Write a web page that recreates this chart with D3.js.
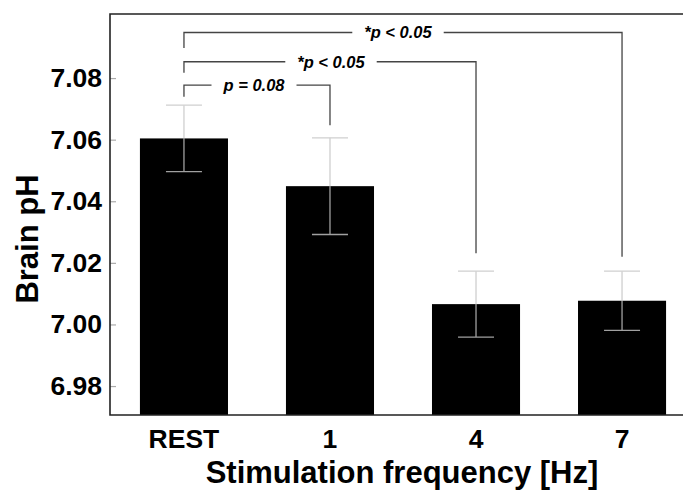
<!DOCTYPE html>
<html><head><meta charset="utf-8">
<script src="https://cdn.jsdelivr.net/npm/d3@7"></script>
<style>body{margin:0;background:#fff}svg{display:block}text{font-family:"Liberation Sans",Arial,sans-serif}</style>
</head><body><svg width="683" height="490"></svg>
<script>
const categories = ["REST", "1", "4", "7"];
const means = [7.0604, 7.0449, 7.0066, 7.0077];
const errors = [0.0108, 0.0157, 0.0107, 0.0096];
const yTicks = [6.98, 7.00, 7.02, 7.04, 7.06, 7.08];
const comparisons = [
  {from: "REST", to: "1", label: "p = 0.08", star: false, level: 7.0777, leftEnd: 7.0739, rightEnd: 7.0647},
  {from: "REST", to: "4", label: "p < 0.05", star: true, level: 7.0853, leftEnd: 7.0817, rightEnd: 7.0231},
  {from: "REST", to: "7", label: "p < 0.05", star: true, level: 7.0948, leftEnd: 7.0898, rightEnd: 7.0220}
];

const svg = d3.select("svg");
const mLeft = 110, mTop = 14, mBottom = 415, mRight = 683;
const x = d3.scaleBand().domain(categories).range([mLeft, 696]).paddingInner(0.397).paddingOuter(0.205);
const y = d3.scaleLinear().domain([6.9706, 7.1008]).range([mBottom, mTop]);

// bars
svg.selectAll("rect.bar").data(means).join("rect")
  .attr("class", "bar")
  .attr("x", (d, i) => x(categories[i]))
  .attr("width", x.bandwidth())
  .attr("y", d => y(d))
  .attr("height", d => mBottom - y(d))
  .attr("fill", "#000");

// error bars
const capW = 36;
means.forEach((m, i) => {
  const cx = x(categories[i]) + x.bandwidth() / 2;
  const hi = m + errors[i], lo = m - errors[i];
  svg.append("line").attr("x1", cx).attr("x2", cx).attr("y1", y(hi)).attr("y2", y(m))
    .attr("stroke", "#cfcfcf").attr("stroke-width", 1.3);
  svg.append("line").attr("x1", cx).attr("x2", cx).attr("y1", y(m)).attr("y2", y(lo))
    .attr("stroke", "#a0a0a0").attr("stroke-width", 1.3);
  svg.append("line").attr("x1", cx - capW / 2).attr("x2", cx + capW / 2).attr("y1", y(hi)).attr("y2", y(hi))
    .attr("stroke", "#cfcfcf").attr("stroke-width", 1.3);
  svg.append("line").attr("x1", cx - capW / 2).attr("x2", cx + capW / 2).attr("y1", y(lo)).attr("y2", y(lo))
    .attr("stroke", "#a0a0a0").attr("stroke-width", 1.3);
});

// y axis
const yAxis = d3.axisLeft(y).tickValues(yTicks).tickFormat(d3.format(".2f")).tickSize(-6).tickPadding(8);
const ga = svg.append("g").attr("transform", `translate(${mLeft},0)`).call(yAxis);
ga.select(".domain").remove();
ga.selectAll(".tick line").attr("stroke", "#aaa").attr("stroke-width", 1.2);
ga.selectAll(".tick text").attr("x", -8).attr("font-size", 26.5).attr("font-weight", "bold").attr("fill", "#000")
  .style("font-family", "'Liberation Sans', Arial, sans-serif");

// x axis labels
const xAxis = d3.axisBottom(x).tickSize(0).tickPadding(14);
const gx = svg.append("g").attr("transform", `translate(0,${mBottom})`).call(xAxis);
gx.select(".domain").remove();
gx.selectAll(".tick text").attr("font-size", 26.5).attr("font-weight", "bold").attr("fill", "#000")
  .style("font-family", "'Liberation Sans', Arial, sans-serif");

// frame
const frame = d3.path();
frame.moveTo(mRight, mTop); frame.lineTo(mLeft, mTop); frame.lineTo(mLeft, mBottom); frame.lineTo(mRight, mBottom);
svg.append("path").attr("d", frame.toString()).attr("fill", "none").attr("stroke", "#222").attr("stroke-width", 1.6);

// significance brackets
const labelX = {"1": 254, "4": 331, "7": 398};
comparisons.forEach(c => {
  const x1 = x(c.from) + x.bandwidth() / 2, x2 = x(c.to) + x.bandwidth() / 2;
  const yl = y(c.level);
  const tx = labelX[c.to];
  const t = svg.append("text").attr("font-size", 16.5).attr("font-weight", "bold").attr("font-style", "italic")
    .attr("text-anchor", "middle").attr("x", tx).attr("y", yl + 6);
  t.text((c.star ? "*" : "") + c.label);
  const w = t.node().getComputedTextLength();
  const gap = 12;
  const p = d3.path();
  p.moveTo(x1, y(c.leftEnd)); p.lineTo(x1, yl); p.lineTo(tx - w / 2 - gap, yl);
  p.moveTo(tx + w / 2 + gap, yl); p.lineTo(x2, yl); p.lineTo(x2, y(c.rightEnd));
  svg.append("path").attr("d", p.toString()).attr("fill", "none").attr("stroke", "#444").attr("stroke-width", 1.3);
});

// axis titles
svg.append("text").attr("x", 402).attr("y", 483).attr("text-anchor", "middle")
  .attr("font-size", 31).attr("font-weight", "bold").text("Stimulation frequency [Hz]");
svg.append("text").attr("transform", "translate(38,239) rotate(-90)").attr("text-anchor", "middle")
  .attr("font-size", 31).attr("font-weight", "bold").text("Brain pH");
</script></body></html>
